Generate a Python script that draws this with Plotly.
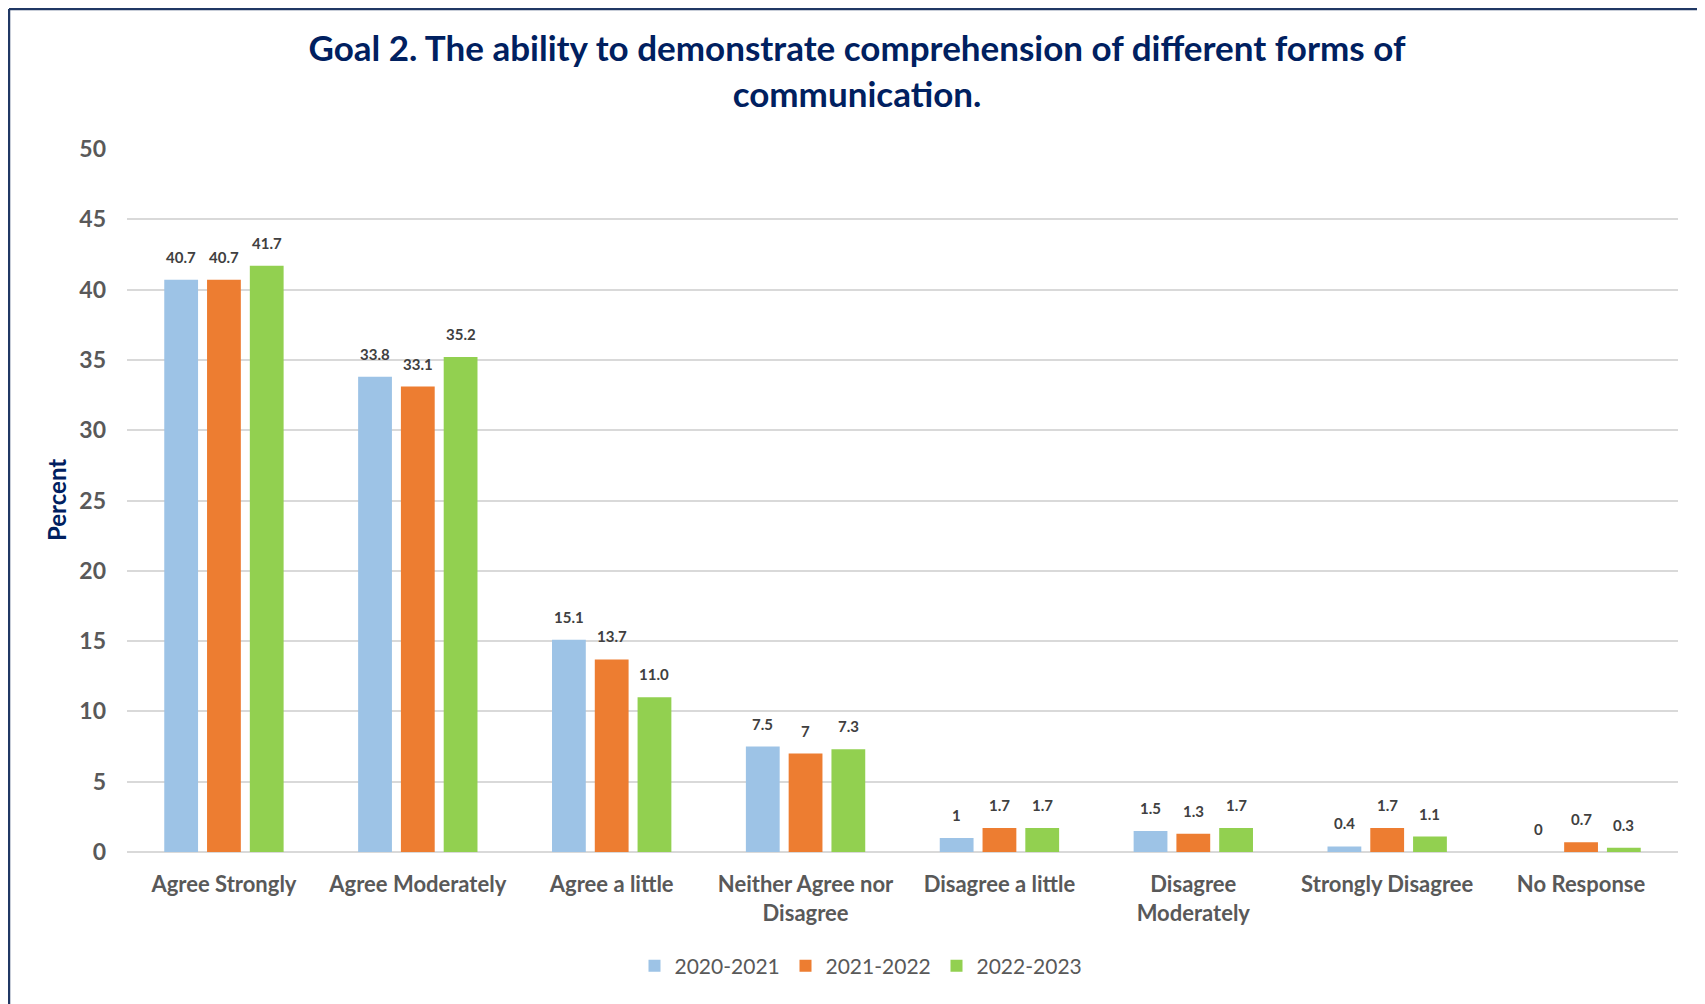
import plotly.graph_objects as go

categories = ["Agree Strongly", "Agree Moderately", "Agree a little",
              "Neither Agree nor<br>Disagree", "Disagree a little",
              "Disagree<br>Moderately", "Strongly Disagree", "No Response"]
series_names = ["2020-2021", "2021-2022", "2022-2023"]
v2020 = [40.7, 33.8, 15.1, 7.5, 1.0, 1.5, 0.4, 0.0]
v2021 = [40.7, 33.1, 13.7, 7.0, 1.7, 1.3, 1.7, 0.7]
v2022 = [41.7, 35.2, 11.0, 7.3, 1.7, 1.7, 1.1, 0.3]
l2020 = ["40.7", "33.8", "15.1", "7.5", "1", "1.5", "0.4", "0"]
l2021 = ["40.7", "33.1", "13.7", "7", "1.7", "1.3", "1.7", "0.7"]
l2022 = ["41.7", "35.2", "11.0", "7.3", "1.7", "1.7", "1.1", "0.3"]
y_ticks = [0, 5, 10, 15, 20, 25, 30, 35, 40, 45, 50]

colors = ["#9DC3E6", "#ED7D31", "#92D050"]
values = [v2020, v2021, v2022]
labels = [l2020, l2021, l2022]

# page body margin offset (browser default 8px)
OFF = 8
W, H = 1705 - OFF, 1004 - OFF
# plot area in page pixels: left 127, right 1678, top 149, bottom 852
ML = 127 - OFF
MT = 149 - OFF
MB = H - (852 - OFF)
MR = W - (1678 - OFF)
plot_w = W - ML - MR
plot_h = H - MT - MB
cat_w = plot_w / len(categories)
bargap = 0.338
bargroupgap = 0.21
slot = cat_w * (1 - bargap) / 3


def px_x(page_px):
    return (page_px - OFF - ML) / plot_w


def px_y(page_py):
    return (H - MB - (page_py - OFF)) / plot_h


fig = go.Figure()
for name, vals, col in zip(series_names, values, colors):
    fig.add_trace(go.Bar(x=categories, y=vals, name=name, marker_color=col,
                         marker_line_width=0, hoverinfo="skip"))

annotations = []
for i, (vals, labs) in enumerate(zip(values, labels)):
    for c, v, t in zip(categories, vals, labs):
        annotations.append(dict(x=c, y=v, xref="x", yref="y", text=t,
                                showarrow=False, yanchor="bottom",
                                xshift=(i - 1) * slot, yshift=12,
                                font=dict(family="Lato", size=15, color="#404040",
                                          weight="bold")))

annotations.append(dict(x=px_x(56.5), y=0.5, xref="paper", yref="paper",
                        text="Percent", textangle=-90, showarrow=False,
                        xanchor="center", yanchor="middle",
                        font=dict(family="Lato", size=24, color="#002060",
                                  weight="bold")))

border_col = "#203864"
shapes = [
    dict(type="line", xref="paper", yref="paper",
         x0=px_x(OFF + 1), x1=px_x(1705 + 40),
         y0=px_y(OFF + 1), y1=px_y(OFF + 1),
         line=dict(color=border_col, width=2.5)),
    dict(type="line", xref="paper", yref="paper",
         x0=px_x(OFF + 1), x1=px_x(OFF + 1),
         y0=px_y(OFF + 1), y1=px_y(1004 + 40),
         line=dict(color=border_col, width=2.5)),
]

fig.update_layout(
    width=W, height=H,
    margin=dict(l=ML, r=MR, t=MT, b=MB, autoexpand=False),
    paper_bgcolor="white", plot_bgcolor="white",
    barmode="group", bargap=bargap, bargroupgap=bargroupgap,
    title=dict(text="Goal 2. The ability to demonstrate comprehension of different forms of<br>communication.",
               x=px_x(857) * plot_w / W + ML / W, xanchor="center",
               y=1 - 53 / H, yanchor="middle",
               font=dict(family="Lato", size=35, color="#002060", weight="bold")),
    font=dict(family="Lato", color="#595959"),
    showlegend=True,
    legend=dict(orientation="h", x=px_x(861), xanchor="center",
                y=px_y(966), yanchor="middle",
                font=dict(family="Lato", size=21, color="#595959"),
                itemwidth=30, traceorder="normal",
                entrywidth=106, entrywidthmode="pixels"),
    annotations=annotations,
    shapes=shapes,
)
fig.update_xaxes(showgrid=False, showline=False, ticks="", tickangle=0,
                 tickfont=dict(family="Lato", size=22, color="#595959", weight="bold"),
                 ticklabelstandoff=17)
fig.update_yaxes(range=[0, 50], tickvals=y_ticks, showgrid=True,
                 gridcolor="#D9D9D9", gridwidth=1.5, zeroline=True,
                 zerolinecolor="#D9D9D9", zerolinewidth=2, showline=False,
                 tickfont=dict(family="Lato", size=23, color="#595959", weight="bold"),
                 ticklabelstandoff=20)

fig.write_html("out.html")
